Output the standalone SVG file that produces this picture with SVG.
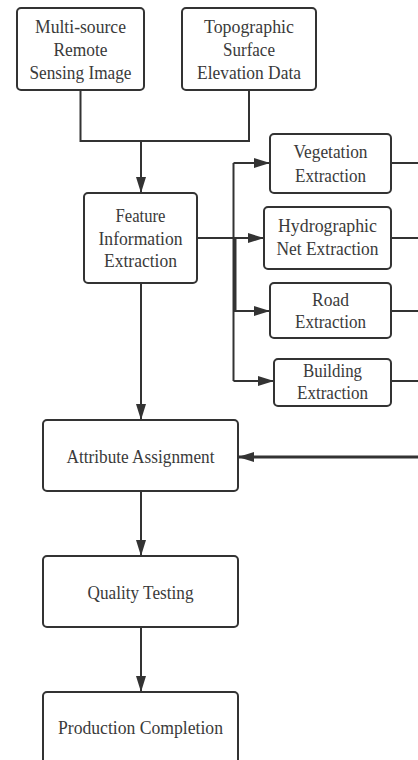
<svg xmlns="http://www.w3.org/2000/svg" width="418" height="760" viewBox="0 0 418 760">
<defs>
<style>
.box{fill:#fff;stroke:#333;stroke-width:2}
.t{font-family:'Liberation Serif','DejaVu Serif',serif;font-size:19.5px;fill:#3a3a3a;text-anchor:middle}
.c{fill:none;stroke:#333;stroke-width:2}
.thick{stroke-width:3}
</style>
<marker id="ah" viewBox="0 0 16 10" refX="16" refY="5" markerWidth="16" markerHeight="10" markerUnits="userSpaceOnUse" orient="auto">
<path d="M0,0 L16,5 L0,10 z" fill="#333"/>
</marker>
</defs>
<rect width="418" height="760" fill="#fff"/>
<g id="connectors">
<path class="c" d="M80.5 90 V141 H249 V90"/>
<path class="c" d="M141 141 V193" marker-end="url(#ah)"/>
<path class="c" d="M197 238 H264" marker-end="url(#ah)"/>
<path class="c" d="M233.5 163 V381"/>
<path class="c thick" d="M235 238 V311"/>
<path class="c" d="M233.5 163 H270" marker-end="url(#ah)"/>
<path class="c" d="M233.5 311 H270" marker-end="url(#ah)"/>
<path class="c" d="M233.5 381 H274" marker-end="url(#ah)"/>
<path class="c" d="M391 163 H418"/>
<path class="c" d="M391 238 H418"/>
<path class="c" d="M391 311 H418"/>
<path class="c" d="M391 381 H418"/>
<path class="c thick" d="M418 457 H238" marker-end="url(#ah)"/>
<path class="c" d="M141 283 V420" marker-end="url(#ah)"/>
<path class="c" d="M141 491 V556" marker-end="url(#ah)"/>
<path class="c" d="M141 627 V692" marker-end="url(#ah)"/>
</g>
<g id="n1"><rect class="box" x="17" y="8" width="127" height="82" rx="4"/>
<text class="t" x="80.5" y="33" textLength="91" lengthAdjust="spacingAndGlyphs">Multi-source</text>
<text class="t" x="80.5" y="56" textLength="54" lengthAdjust="spacingAndGlyphs">Remote</text>
<text class="t" x="80.5" y="79" textLength="102" lengthAdjust="spacingAndGlyphs">Sensing Image</text></g>
<g id="n2"><rect class="box" x="182" y="8" width="134" height="82" rx="4"/>
<text class="t" x="249" y="33" textLength="90" lengthAdjust="spacingAndGlyphs">Topographic</text>
<text class="t" x="249" y="56" textLength="52" lengthAdjust="spacingAndGlyphs">Surface</text>
<text class="t" x="249" y="79" textLength="104" lengthAdjust="spacingAndGlyphs">Elevation Data</text></g>
<g id="n3"><rect class="box" x="84" y="193" width="113" height="90" rx="4"/>
<text class="t" x="140.5" y="222" textLength="50" lengthAdjust="spacingAndGlyphs">Feature</text>
<text class="t" x="140.5" y="245" textLength="84" lengthAdjust="spacingAndGlyphs">Information</text>
<text class="t" x="140.5" y="267" textLength="73" lengthAdjust="spacingAndGlyphs">Extraction</text></g>
<g id="n4"><rect class="box" x="270" y="134" width="121" height="59" rx="4"/>
<text class="t" x="330.5" y="158" textLength="74" lengthAdjust="spacingAndGlyphs">Vegetation</text>
<text class="t" x="330.5" y="182" textLength="71" lengthAdjust="spacingAndGlyphs">Extraction</text></g>
<g id="n5"><rect class="box" x="264" y="207" width="127" height="62" rx="4"/>
<text class="t" x="327.5" y="232" textLength="99" lengthAdjust="spacingAndGlyphs">Hydrographic</text>
<text class="t" x="327.5" y="255" textLength="102" lengthAdjust="spacingAndGlyphs">Net Extraction</text></g>
<g id="n6"><rect class="box" x="270" y="283" width="121" height="55" rx="4"/>
<text class="t" x="330.5" y="306" textLength="37" lengthAdjust="spacingAndGlyphs">Road</text>
<text class="t" x="330.5" y="328" textLength="71" lengthAdjust="spacingAndGlyphs">Extraction</text></g>
<g id="n7"><rect class="box" x="274" y="359" width="117" height="47" rx="4"/>
<text class="t" x="332.5" y="377" textLength="59" lengthAdjust="spacingAndGlyphs">Building</text>
<text class="t" x="332.5" y="399" textLength="71" lengthAdjust="spacingAndGlyphs">Extraction</text></g>
<g id="n8"><rect class="box" x="43" y="420" width="195" height="71" rx="4"/>
<text class="t" x="140.5" y="463" textLength="148" lengthAdjust="spacingAndGlyphs">Attribute Assignment</text></g>
<g id="n9"><rect class="box" x="43" y="556" width="195" height="71" rx="4"/>
<text class="t" x="140.5" y="599" textLength="106" lengthAdjust="spacingAndGlyphs">Quality Testing</text></g>
<g id="n10"><rect class="box" x="43" y="692" width="195" height="76" rx="4"/>
<text class="t" x="140.5" y="734" textLength="165" lengthAdjust="spacingAndGlyphs">Production Completion</text></g>
</svg>
